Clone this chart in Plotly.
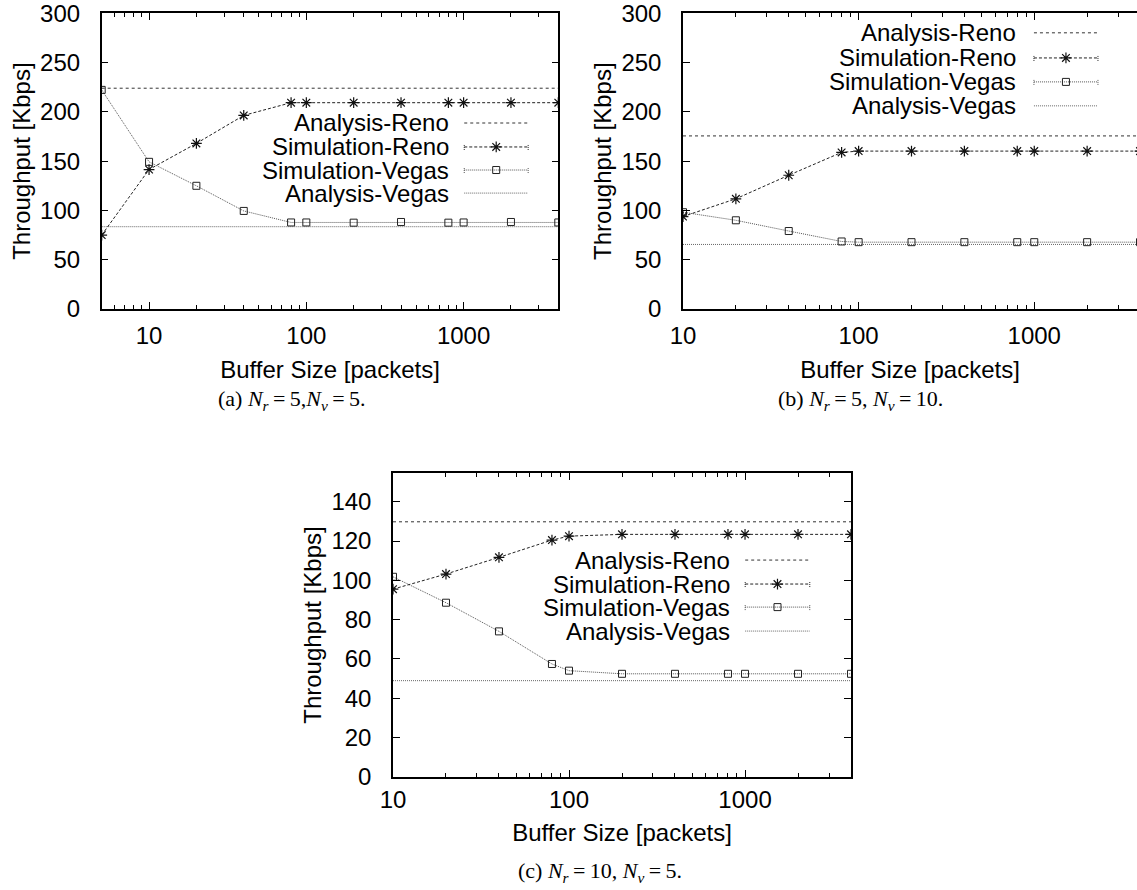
import plotly.graph_objects as go
import math

# ---------------- data ----------------
buffer_a = [5, 10, 20, 40, 80, 100, 200, 400, 800, 1000, 2000, 4000]
sim_reno_a = [75, 141.5, 168, 196.4, 209.3, 209.3, 209.3, 209.3, 209.3, 209.3, 209.3, 209.3]
sim_vegas_a = [222.3, 149.3, 125, 99.5, 87.8, 87.8, 87.6, 88.3, 87.6, 87.8, 88.3, 87.8]
ana_reno_a = 224.0
ana_vegas_a = 83.5

buffer_bc = [10, 20, 40, 80, 100, 200, 400, 800, 1000, 2000, 4000]
sim_reno_b = [93.8, 111.8, 135.7, 158.9, 160.2, 160.2, 160.2, 160.2, 160.2, 160.2, 160.2]
sim_vegas_b = [98.2, 90.0, 79.1, 68.5, 67.8, 67.8, 67.8, 67.8, 67.8, 67.8, 67.8]
ana_reno_b = 175.6
ana_vegas_b = 65.5

sim_reno_c = [95.5, 103.2, 111.7, 120.5, 122.5, 123.4, 123.4, 123.4, 123.4, 123.4, 123.4]
sim_vegas_c = [101.8, 88.6, 74.0, 57.4, 54.0, 52.4, 52.4, 52.4, 52.4, 52.4, 52.4]
ana_reno_c = 129.8
ana_vegas_c = 48.9

x_span_a = [5, 4000]
x_span_bc = [10, 4000]

series_names = ["Analysis-Reno", "Simulation-Reno", "Simulation-Vegas", "Analysis-Vegas"]
x_ticks = [10, 100, 1000]
EQ = "\u2009=\u2009"
captions = [
    "(a) <i>N</i><sub><i>r</i></sub>" + EQ + "5,<i>N</i><sub><i>v</i></sub>" + EQ + "5.",
    "(b) <i>N</i><sub><i>r</i></sub>" + EQ + "5, <i>N</i><sub><i>v</i></sub>" + EQ + "10.",
    "(c) <i>N</i><sub><i>r</i></sub>" + EQ + "10, <i>N</i><sub><i>v</i></sub>" + EQ + "5.",
]

# ---------------- styles ----------------
W, H = 1137, 890
SANS = "Liberation Sans, Arial, Helvetica, sans-serif"
SERIF = "Liberation Serif, Times New Roman, serif"
FS = 24

style = {
    "Analysis-Reno": dict(color="#333333", dash="3px,3px", width=1),
    "Simulation-Reno": dict(color="#222222", dash="3px,2px", width=1),
    "Simulation-Vegas": dict(color="#555555", dash="1px,1px", width=1),
    "Analysis-Vegas": dict(color="#666666", dash="1px,1px", width=1),
}
marker_style = {
    "Simulation-Reno": dict(symbol="asterisk-open", size=9, color="#111111",
                            line=dict(color="#111111", width=1.2)),
    "Simulation-Vegas": dict(symbol="square-open", size=7, color="#222222",
                             line=dict(color="#222222", width=1)),
}

# panel pixel boxes: left, right, top, bottom
panels = [
    dict(box=(101.7, 558.3, 13.3, 309.0), xr=[math.log10(5), math.log10(4000)], yr=[0, 300], dy=50,
         x=buffer_a, reno=sim_reno_a, vegas=sim_vegas_a, ar=ana_reno_a, av=ana_vegas_a, span=x_span_a,
         leg_text_x=0.766, leg_line=(0.794, 0.934), leg_rows=[0.629, 0.548, 0.470, 0.392],
         cap=(292, 400), mirror_y=True, xstand=4, xtitle=14),
    dict(box=(683.0, 1137.0, 13.3, 309.0), xr=[1, math.log10(4000) - 3.0 / 175.6], yr=[0, 300], dy=50,
         x=buffer_bc, reno=sim_reno_b, vegas=sim_vegas_b, ar=ana_reno_b, av=ana_vegas_b, span=x_span_bc,
         leg_text_x=0.738, leg_line=(0.773, 0.914), leg_rows=[0.934, 0.849, 0.768, 0.687],
         cap=(860, 400), mirror_y=False, xstand=4, xtitle=14),
    dict(box=(393.0, 851.0, 473.3, 776.7), xr=[1, math.log10(4000)], yr=[0, 154.5], dy=20,
         x=buffer_bc, reno=sim_reno_c, vegas=sim_vegas_c, ar=ana_reno_c, av=ana_vegas_c, span=x_span_bc,
         leg_text_x=0.740, leg_line=(0.769, 0.910), leg_rows=[0.714, 0.635, 0.559, 0.480],
         cap=(600, 872), mirror_y=True, xstand=1, xtitle=12),
]

fig = go.Figure()
layout = dict(
    width=W, height=H, margin=dict(l=0, r=0, t=0, b=0, autoexpand=False),
    paper_bgcolor="white", plot_bgcolor="white", showlegend=False,
    font=dict(family=SANS, size=FS, color="black"),
)
annotations = []
shapes = []

for i, p in enumerate(panels):
    n = i + 1
    ov = i + 4
    l, r, t, b = p["box"]
    xd = [l / W, r / W]
    yd = [1 - b / H, 1 - t / H]
    xs = "" if n == 1 else str(n)
    xa, ya = "x" + xs, "y" + xs
    xo, yo = "x%d" % ov, "y%d" % ov

    layout["xaxis" + xs] = dict(
        type="log", domain=xd, range=p["xr"], anchor=ya, automargin=False,
        tickvals=x_ticks, ticktext=[str(v) for v in x_ticks],
        ticks="inside", ticklen=7, tickcolor="black", tickwidth=1,
        minor=dict(ticks="inside", ticklen=4, tickcolor="black", dtick="D1", showgrid=False),
        showline=True, linecolor="black", linewidth=1.5, mirror="allticks",
        showgrid=False, zeroline=False, ticklabelstandoff=p["xstand"], ticklabeloverflow="allow",
        tickfont=dict(family=SANS, size=FS),
        title=dict(text="Buffer Size [packets]", font=dict(family=SANS, size=FS), standoff=p["xtitle"]),
    )
    layout["yaxis" + xs] = dict(
        domain=yd, range=p["yr"], anchor=xa, dtick=p["dy"], tick0=0, automargin=False,
        ticks="inside", ticklen=7, tickcolor="black", tickwidth=1,
        showline=True, linecolor="black", linewidth=1.5,
        mirror="allticks" if p["mirror_y"] else False,
        showgrid=False, zeroline=False, ticklabelstandoff=15, ticklabeloverflow="allow",
        tickfont=dict(family=SANS, size=FS),
        title=dict(text="Throughput [Kbps]", font=dict(family=SANS, size=FS), standoff=3),
    )
    # overlay axes for legend samples (fraction-of-plot coordinates)
    layout["xaxis%d" % ov] = dict(overlaying=xa, range=[0, 1], visible=False, anchor=yo)
    layout["yaxis%d" % ov] = dict(overlaying=ya, range=[0, 1], visible=False, anchor=xo)

    # data traces
    fig.add_trace(go.Scatter(x=p["span"], y=[p["ar"], p["ar"]], mode="lines",
                             line=style["Analysis-Reno"], xaxis=xa, yaxis=ya, name="Analysis-Reno"))
    fig.add_trace(go.Scatter(x=p["span"], y=[p["av"], p["av"]], mode="lines",
                             line=style["Analysis-Vegas"], xaxis=xa, yaxis=ya, name="Analysis-Vegas"))
    fig.add_trace(go.Scatter(x=p["x"], y=p["vegas"], mode="lines+markers",
                             line=style["Simulation-Vegas"], marker=marker_style["Simulation-Vegas"],
                             xaxis=xa, yaxis=ya, name="Simulation-Vegas"))
    fig.add_trace(go.Scatter(x=p["x"], y=p["reno"], mode="lines+markers",
                             line=style["Simulation-Reno"], marker=marker_style["Simulation-Reno"],
                             xaxis=xa, yaxis=ya, name="Simulation-Reno"))

    # custom gnuplot-style legend: text right-aligned, sample on the right
    x0, x1 = p["leg_line"]
    for name, yrow in zip(series_names, p["leg_rows"]):
        annotations.append(dict(text=name, xref=xo, yref=yo, x=p["leg_text_x"], y=yrow,
                                xanchor="right", yanchor="middle", showarrow=False,
                                font=dict(family=SANS, size=FS, color="black")))
        if name in marker_style:
            fig.add_trace(go.Scatter(x=[x0, x1], y=[yrow, yrow], mode="lines",
                                     line=style[name], xaxis=xo, yaxis=yo, hoverinfo="skip"))
            fig.add_trace(go.Scatter(x=[(x0 + x1) / 2], y=[yrow], mode="markers",
                                     marker=marker_style[name], xaxis=xo, yaxis=yo, hoverinfo="skip"))
            hh = 3.0 / (b - t)
            for xe in (x0, x1):
                shapes.append(dict(type="line", xref=xo, yref=yo, x0=xe, x1=xe,
                                   y0=yrow - hh, y1=yrow + hh,
                                   line=dict(color=style[name]["color"], width=1, dash="1px,1px")))
        else:
            fig.add_trace(go.Scatter(x=[x0, x1], y=[yrow, yrow], mode="lines",
                                     line=style[name], xaxis=xo, yaxis=yo, hoverinfo="skip"))

    # caption
    cx, cy = p["cap"]
    annotations.append(dict(text=captions[i], xref="paper", yref="paper", x=cx / W, y=1 - cy / H,
                            xanchor="center", yanchor="middle", showarrow=False,
                            font=dict(family=SERIF, size=22, color="black")))

layout["annotations"] = annotations
layout["shapes"] = shapes
fig.update_layout(**layout)
fig.write_html("out.html",
               config={"displayModeBar": False},
               post_script="document.body.style.margin='0';document.body.style.padding='0';"
                           "document.body.style.overflow='hidden';")
